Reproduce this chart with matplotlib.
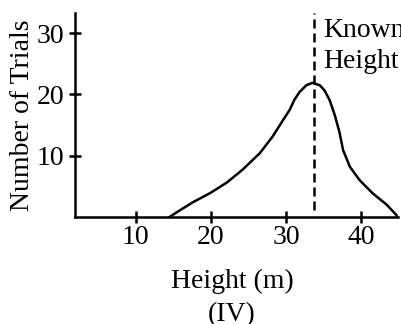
import matplotlib
matplotlib.use("Agg")
import matplotlib.pyplot as plt

# ===== Data =====
height = [14.5, 15.9, 17.6, 19.9, 22.1, 24.2, 26.5, 28.2, 29.6, 30.5, 31.1, 31.8,
          32.7, 33.5, 34.5, 35.1, 35.8, 36.5, 37.1, 37.6, 38.5, 39.8, 41.5, 43.4,
          44.7, 44.8]
trials = [0.0, 1.1, 2.4, 3.9, 5.6, 7.7, 10.4, 13.1, 15.8, 17.5, 19.1, 20.4,
          21.5, 21.9, 21.5, 20.7, 19.1, 16.6, 13.9, 10.9, 8.2, 6.0, 3.9, 2.0,
          0.3, 0.0]
known_height = 33.7
x_ticks = [10, 20, 30, 40]
y_ticks = [10, 20, 30]

plt.rcParams["font.family"] = ["Liberation Serif", "DejaVu Serif"]
FS = 20
LW = 1.8

fig = plt.figure(figsize=(4.01, 3.24), dpi=100)
ax = fig.add_axes([75 / 401, 1 - 217 / 324, 323 / 401, 204 / 324])

ax.plot(height, trials, color="black", lw=LW, solid_joinstyle="round", clip_on=False)
ax.plot([known_height, known_height], [1.1, 33.3], color="black", lw=LW,
        linestyle=(0, (3.6, 2.0)), clip_on=False)

ax.text(34.9, 29.4, "Known", fontsize=FS, va="baseline", ha="left", clip_on=False)
ax.text(34.9, 24.3, "Height", fontsize=FS, va="baseline", ha="left", clip_on=False)

ax.set_xlim(1.93, 44.9)
ax.set_ylim(0, 33.3)
ax.set_xticks(x_ticks)
ax.set_yticks(y_ticks)

for side in ["top", "right"]:
    ax.spines[side].set_visible(False)
for side in ["left", "bottom"]:
    ax.spines[side].set_linewidth(LW)

ax.tick_params(direction="inout", length=9, width=LW, labelsize=FS, pad=1)
ax.tick_params(axis="y", pad=3)

fig.text(23 / 401, 1 - 115 / 324, "Number of Trials", rotation=90, fontsize=FS,
         ha="center", va="center")
fig.text(232 / 401, 1 - 288 / 324, "Height (m)", fontsize=FS, ha="center", va="baseline")
fig.text(232 / 401, 1 - 321 / 324, "(IV)", fontsize=FS, ha="center", va="baseline")

fig.savefig("out.png", dpi=100)
